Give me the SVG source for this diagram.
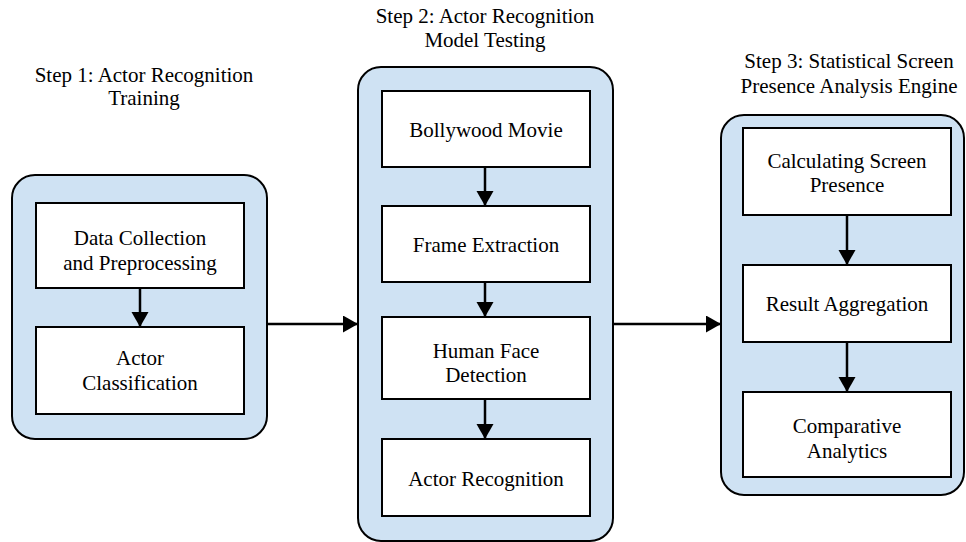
<svg xmlns="http://www.w3.org/2000/svg" width="966" height="542" viewBox="0 0 966 542">
<style>
.cont{fill:#cfe2f3;stroke:#000;stroke-width:2}
.box{fill:#fff;stroke:#000;stroke-width:2}
text{font-size:21px;fill:#000;text-anchor:middle}
.conn{stroke:#000;stroke-width:2.5;fill:none;marker-end:url(#ah)}
</style>
<defs>
<marker id="ah" markerUnits="userSpaceOnUse" markerWidth="16" markerHeight="18" refX="15" refY="8.5" orient="auto">
<path d="M0,0 L15,8.5 L0,17 Z" fill="#000"/>
</marker>
</defs>
<rect width="966" height="542" fill="#fff"/>
<g font-family="Liberation Serif, Times New Roman, DejaVu Serif, serif">
<g id="step1">
<text x="144" y="82">Step 1: Actor Recognition</text>
<text x="144" y="105">Training</text>
<rect class="cont" x="12" y="175" width="255" height="264" rx="23"/>
</g>
<g id="step2">
<text x="485" y="23">Step 2: Actor Recognition</text>
<text x="485" y="47">Model Testing</text>
<rect class="cont" x="358" y="67" width="255" height="474" rx="23"/>
</g>
<g id="step3">
<text x="849" y="68">Step 3: Statistical Screen</text>
<text x="849" y="93">Presence Analysis Engine</text>
<rect class="cont" x="721" y="115" width="243" height="380" rx="23"/>
</g>
<g id="data-collection">
<rect class="box" x="36" y="203" width="208" height="85"/>
<text x="140" y="245">Data Collection</text>
<text x="140" y="270">and Preprocessing</text>
</g>
<g id="actor-classification">
<rect class="box" x="36" y="327" width="208" height="87"/>
<text x="140" y="365">Actor</text>
<text x="140" y="390">Classification</text>
</g>
<g id="bollywood-movie">
<rect class="box" x="382" y="91" width="208" height="76"/>
<text x="486" y="137">Bollywood Movie</text>
</g>
<g id="frame-extraction">
<rect class="box" x="382" y="206" width="208" height="76"/>
<text x="486" y="252">Frame Extraction</text>
</g>
<g id="human-face-detection">
<rect class="box" x="382" y="317" width="208" height="82"/>
<text x="486" y="358">Human Face</text>
<text x="486" y="382">Detection</text>
</g>
<g id="actor-recognition">
<rect class="box" x="382" y="439" width="208" height="77"/>
<text x="486" y="486">Actor Recognition</text>
</g>
<g id="calculating-screen-presence">
<rect class="box" x="743" y="128" width="208" height="87"/>
<text x="847" y="168">Calculating Screen</text>
<text x="847" y="192">Presence</text>
</g>
<g id="result-aggregation">
<rect class="box" x="743" y="265" width="208" height="77"/>
<text x="847" y="311">Result Aggregation</text>
</g>
<g id="comparative-analytics">
<rect class="box" x="743" y="392" width="208" height="85"/>
<text x="847" y="433">Comparative</text>
<text x="847" y="458">Analytics</text>
</g>
</g>
<g id="connectors">
<line class="conn" x1="140" y1="289" x2="140" y2="327"/>
<line class="conn" x1="485" y1="168" x2="485" y2="206"/>
<line class="conn" x1="485" y1="283" x2="485" y2="317"/>
<line class="conn" x1="485" y1="400" x2="485" y2="439"/>
<line class="conn" x1="847" y1="216" x2="847" y2="265"/>
<line class="conn" x1="847" y1="343" x2="847" y2="392"/>
<line class="conn" x1="268" y1="324" x2="358" y2="324"/>
<line class="conn" x1="614" y1="324" x2="721" y2="324"/>
</g>
</svg>
